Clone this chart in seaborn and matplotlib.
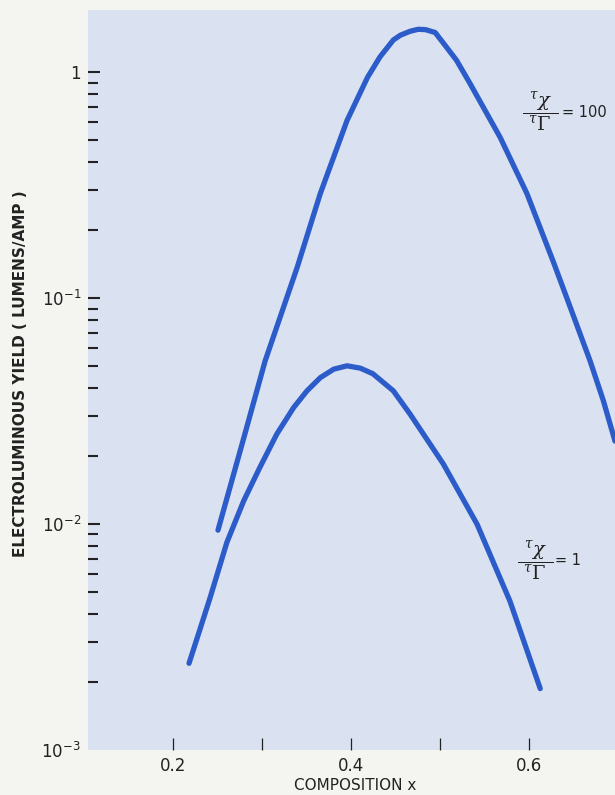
import numpy as np
import pandas as pd
import matplotlib.pyplot as plt
import seaborn as sns
from matplotlib.ticker import LogLocator, NullFormatter

# composition x and electroluminous yield (lumens/amp)
x_100 = [0.251, 0.279, 0.304, 0.340, 0.366, 0.396, 0.419, 0.433, 0.448, 0.456, 0.467, 0.476,
         0.484, 0.495, 0.504, 0.519, 0.534, 0.568, 0.598, 0.628, 0.644, 0.669, 0.684, 0.697]
y_100 = [0.0094, 0.0233, 0.0528, 0.137, 0.291, 0.612, 0.95, 1.17, 1.39, 1.46, 1.52, 1.55,
         1.545, 1.50, 1.35, 1.13, 0.894, 0.515, 0.291, 0.144, 0.0975, 0.0528, 0.0351, 0.0233]

x_1 = [0.2185, 0.242, 0.261, 0.280, 0.298, 0.317, 0.336, 0.351, 0.366, 0.381, 0.396, 0.411,
       0.425, 0.448, 0.467, 0.504, 0.542, 0.579, 0.613]
y_1 = [0.00242, 0.0047, 0.0083, 0.0127, 0.0178, 0.025, 0.0328, 0.0389, 0.0445, 0.0485, 0.0502,
       0.049, 0.0463, 0.0389, 0.0306, 0.0185, 0.0100, 0.00456, 0.00187]

y_ticks = [1e-3, 1e-2, 1e-1, 1]
y_tick_labels = ['10$^{-3}$', '10$^{-2}$', '10$^{-1}$', '1']
x_ticks = [0.2, 0.3, 0.4, 0.5, 0.6]
x_tick_labels = ['0.2', '', '0.4', '', '0.6']

df = pd.concat([
    pd.DataFrame({"x": x_100, "y": y_100, "ratio": "100"}),
    pd.DataFrame({"x": x_1, "y": y_1, "ratio": "1"}),
])

sns.set_style("white")
plt.rcParams['font.family'] = ['DejaVu Sans']

fig = plt.figure(figsize=(6.15, 7.95), dpi=100, facecolor='#f4f4f0')
ax = fig.add_axes([88 / 615, 45 / 795, 527 / 615, 740 / 795])
ax.set_facecolor('#dae1f0')

blue = '#2c5cca'
sns.lineplot(data=df, x="x", y="y", units="ratio", estimator=None, color=blue,
             linewidth=3.8, ax=ax, legend=False)
for line in ax.lines:
    line.set_solid_capstyle('round')
    line.set_solid_joinstyle('round')

ax.set_yscale('log')
ax.set_xlim(0.105, 0.697)
ax.set_ylim(1e-3, 1.887)
for s in ax.spines.values():
    s.set_visible(False)

ax.set_yticks(y_ticks)
ax.set_yticklabels(y_tick_labels)
ax.yaxis.set_minor_locator(LogLocator(base=10, subs=range(2, 10)))
ax.yaxis.set_minor_formatter(NullFormatter())
ax.tick_params(axis='y', which='both', left=True)
ax.tick_params(axis='y', which='major', direction='in', length=8.6, width=1.5,
               pad=5, labelsize=12, color='#222222', labelcolor='#222222')
ax.tick_params(axis='y', which='minor', direction='in', length=7.5, width=1.5,
               color='#222222')
ax.yaxis.get_major_ticks()[0].tick1line.set_visible(False)

ax.set_xticks(x_ticks)
ax.set_xticklabels(x_tick_labels)
ax.tick_params(axis='x', which='major', bottom=True, direction='in', length=8.6, width=0.9,
               pad=5, labelsize=12, color='#222222', labelcolor='#222222')
ax.set_xlabel('')
ax.set_ylabel('')

frac = r'$\dfrac{\ ^{\tau}\chi\ }{\ ^{\tau}\Gamma\ }$'
ax.text(0.613, 0.665, frac, fontsize=14, va='center', ha='center',
        color='#222222', math_fontfamily='dejavuserif')
ax.text(0.637, 0.665, '= 100', fontsize=10.5, va='center', ha='left', color='#222222')
ax.text(0.607, 0.0069, frac, fontsize=14, va='center', ha='center',
        color='#222222', math_fontfamily='dejavuserif')
ax.text(0.630, 0.0069, '= 1', fontsize=10.5, va='center', ha='left', color='#222222')

fig.text(0.034, 0.53, 'ELECTROLUMINOUS YIELD ( LUMENS/AMP )', rotation=90,
         fontsize=11, fontweight='bold', ha='center', va='center', color='#222222')
fig.text(355 / 615, 1 - 786 / 795, 'COMPOSITION x', fontsize=11,
         ha='center', va='center', color='#222222')

fig.savefig('out.png', dpi=100, facecolor=fig.get_facecolor())
